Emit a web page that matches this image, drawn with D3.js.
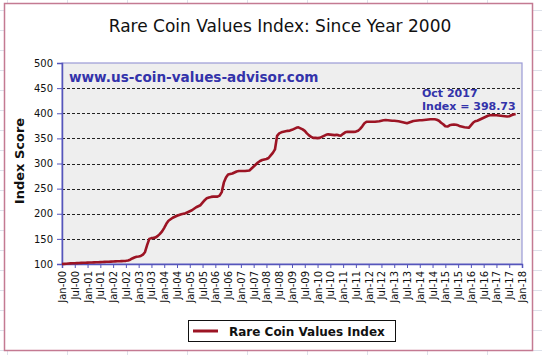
<!DOCTYPE html>
<html><head><meta charset="utf-8">
<script src="https://cdn.jsdelivr.net/npm/d3@7"></script>
<style>body{margin:0;background:#fff}svg{display:block}</style>
</head><body>
<svg id="c" width="542" height="355"></svg>
<script>
const title = "Rare Coin Values Index: Since Year 2000";
const seriesName = "Rare Coin Values Index";
const startYear = 2000;
// monthly index values Jan-2000 .. Oct-2017
const values2000 = [100,100.3,100.6,100.9,101.2,101.4,101.6,101.8,102,102.2,102.4,102.6];
const values2001 = [102.8,103,103.1,103.3,103.5,103.6,103.8,104,104.2,104.4,104.6,104.8];
const values2002 = [105,105.2,105.4,105.6,105.8,106,106.3,107,108.5,111,113,114.5];
const values2003 = [115,116,118.5,124,138,150,151.5,152,153,156,160,165];
const values2004 = [172,180,186,189,192,194,196,197.5,199,200,201,203];
const values2005 = [205,207,210,213,215,217,222,227,231,232.5,233.5,234];
const values2006 = [234,234,236,243,262,272,278,279,280,282,284,285];
const values2007 = [285,285,285,285.5,286,290,294,298,302,305,307,308];
const values2008 = [309,311,316,321,328,355,360,362,363,364,365,365.5];
const values2009 = [367,369,371,372,370,368,365,360,356,353,351,351];
const values2010 = [350.5,351,353,355,357,358,357.5,357,356.5,357,356,355.5];
const values2011 = [359,362,363,363,363,363,363.5,365,369,374,380,383];
const values2012 = [383,383,383,383,383.5,384,385,386,386.5,386,385.5,385];
const values2013 = [385,384.5,384,383,382,381,380,381.5,383,384.5,385,385.5];
const values2014 = [386,386,386.5,387,387.5,388,388,388,387,385,381,378];
const values2015 = [374,373.5,376,377,377.5,377,376,374,373,372,371.5,371];
const values2016 = [376,381,384,385,387,389,391,393,395,396,396.5,396];
const values2017 = [396,395.5,395,394.5,394,393.5,394,396,397.5,398.73];
const yTicks = [100,150,200,250,300,350,400,450,500];
const gridValues = [150,200,250,300,350,400,450];
const xTickLabels = [];
for (let y = 0; y <= 18; y++) {
  const yy = String(y).padStart(2,"0");
  xTickLabels.push("Jan-" + yy);
  if (y < 18) xTickLabels.push("Jul-" + yy);
}
const watermark = "www.us-coin-values-advisor.com";
const noteLines = ["Oct 2017", "Index = 398.73"];
const yAxisTitle = "Index Score";

const allValues = [].concat(values2000,values2001,values2002,values2003,values2004,values2005,
  values2006,values2007,values2008,values2009,values2010,values2011,values2012,values2013,
  values2014,values2015,values2016,values2017);
const data = allValues.map((v,i)=>({m:i, v:v}));

const svg = d3.select("#c");
const font = "'DejaVu Sans', Verdana, sans-serif";

// spreadsheet background grid
const gridG = svg.append("g").attr("stroke","#dde1ea").attr("stroke-width",1);
for (let x = 7; x < 542; x += 60) gridG.append("line").attr("x1",x+0.5).attr("x2",x+0.5).attr("y1",0).attr("y2",355);
for (let y = 10; y < 355; y += 20) gridG.append("line").attr("x1",0).attr("x2",542).attr("y1",y+0.5).attr("y2",y+0.5);

// chart frame
svg.append("rect").attr("x",4.5).attr("y",3.5).attr("width",528).attr("height",347)
  .attr("fill","#fff").attr("stroke","#c47a92").attr("stroke-width",1.5);

const L = 62, R = 522, T = 63, B = 264;
const x = d3.scaleLinear().domain([0, 216]).range([L, R]);
const y = d3.scaleLinear().domain([100, 500]).range([B, T]);

svg.append("rect").attr("x",L).attr("y",T).attr("width",R-L).attr("height",B-T)
  .attr("fill","#eeeeee").attr("stroke","#9a9ad6").attr("stroke-width",1.2);

// dashed gridlines
svg.append("g").selectAll("line").data(gridValues).join("line")
  .attr("x1",L).attr("x2",R).attr("y1",d=>Math.round(y(d))+0.5).attr("y2",d=>Math.round(y(d))+0.5)
  .attr("stroke","#222").attr("stroke-dasharray","3,2").attr("stroke-width",1);

// y axis
const yAxis = d3.axisLeft(y).tickValues(yTicks).tickSize(5).tickPadding(4).tickFormat(d3.format("d"));
const yg = svg.append("g").attr("transform",`translate(${L},0)`).call(yAxis);
yg.select(".domain").attr("stroke","#5555bb").attr("stroke-width",1.5);
yg.selectAll(".tick line").attr("stroke","#5555bb");
yg.selectAll("text").attr("font-family",font).attr("font-size",10).attr("fill","#111");

// x axis
const xTickVals = xTickLabels.map((d,i)=>i*6);
const xAxis = d3.axisBottom(x).tickValues(xTickVals).tickSize(4).tickPadding(3)
  .tickFormat((d,i)=>xTickLabels[i]);
const xg = svg.append("g").attr("transform",`translate(0,${B})`).call(xAxis);
xg.select(".domain").attr("stroke","#5555bb").attr("stroke-width",1.5);
xg.selectAll(".tick line").attr("stroke","#5555bb");
xg.selectAll("text").attr("font-family",font).attr("font-size",10).attr("fill","#111")
  .attr("text-anchor","end").attr("x",0).attr("y",0)
  .attr("transform","translate(0,4) rotate(-90)").attr("dx","-3").attr("dy","0.35em");

// line
const line = d3.line().x(d=>x(d.m)).y(d=>y(d.v));
svg.append("path").datum(data).attr("d",line).attr("fill","none")
  .attr("stroke","#9c1424").attr("stroke-width",2.6).attr("stroke-linejoin","round");

// title
svg.append("text").attr("x",280).attr("y",32).attr("text-anchor","middle")
  .attr("font-family",font).attr("font-size",17).attr("fill","#111").text(title);

// watermark
svg.append("text").attr("x",69).attr("y",82).attr("font-family",font).attr("font-weight","bold")
  .attr("font-size",13.6).attr("fill","#3333aa").text(watermark);

// annotation
svg.append("g").selectAll("text").data(noteLines).join("text")
  .attr("x",422).attr("y",(d,i)=>97+i*13).attr("font-family",font).attr("font-weight","bold")
  .attr("font-size",11).attr("fill","#3333aa").text(d=>d);

// y axis title
svg.append("text").attr("transform","translate(24,161) rotate(-90)").attr("text-anchor","middle")
  .attr("font-family",font).attr("font-weight","bold").attr("font-size",13).attr("fill","#111").text(yAxisTitle);

// legend
const lg = svg.append("g");
lg.append("rect").attr("x",188.5).attr("y",320.5).attr("width",207).attr("height",21)
  .attr("fill","#fff").attr("stroke","#111").attr("stroke-width",1);
lg.append("line").attr("x1",193).attr("x2",218).attr("y1",331).attr("y2",331)
  .attr("stroke","#9c1424").attr("stroke-width",3);
lg.append("text").attr("x",229).attr("y",335.5).attr("font-family",font).attr("font-weight","bold")
  .attr("font-size",12).attr("fill","#111").text(seriesName);
</script>
</body></html>
